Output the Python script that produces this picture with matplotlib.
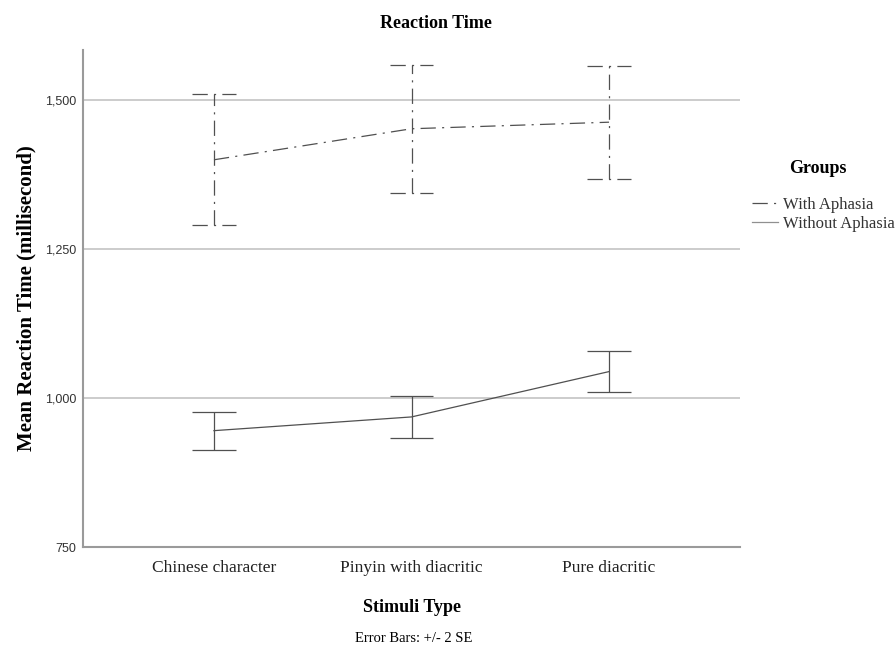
import matplotlib.pyplot as plt
import numpy as np

# values (mean reaction time, ms; error bars = +/- 2 SE)
categories = ["Chinese character", "Pinyin with diacritic", "Pure diacritic"]
group_labels = ["With Aphasia", "Without Aphasia"]
with_mean = [1399, 1451, 1462]
with_err = [110, 107, 95]
without_mean = [945, 968, 1044]
without_err = [32, 35, 34]
yticks = [750, 1000, 1250, 1500]

plt.rcParams['font.family'] = ['Liberation Serif', 'DejaVu Serif']
plt.rcParams['lines.scale_dashes'] = False

dashdot = (0, (11, 4.5, 1.5, 4.5))
line_col = "#505050"

fig = plt.figure(figsize=(8.96, 6.48), dpi=100)
ax = fig.add_axes([83/896, 1 - 547/648, (740 - 83)/896, (547 - 50)/648])

x = np.arange(len(categories))
cap = 0.111

# with aphasia: dash-dot line, error bars and caps
h_with, = ax.plot(x, with_mean, color=line_col, lw=0.9, linestyle=dashdot)
lo = np.array(with_mean) - np.array(with_err)
hi = np.array(with_mean) + np.array(with_err)
ax.vlines(x, lo, hi, color=line_col, lw=0.9, linestyle=dashdot)
ax.hlines(lo, x - cap, x + cap, color=line_col, lw=0.9, linestyle=dashdot)
ax.hlines(hi, x - cap, x + cap, color=line_col, lw=0.9, linestyle=dashdot)

# without aphasia: solid
h_without, = ax.plot(x, without_mean, color=line_col, lw=0.9)
lo = np.array(without_mean) - np.array(without_err)
hi = np.array(without_mean) + np.array(without_err)
ax.vlines(x, lo, hi, color=line_col, lw=0.9)
ax.hlines(lo, x - cap, x + cap, color=line_col, lw=0.9)
ax.hlines(hi, x - cap, x + cap, color=line_col, lw=0.9)

ax.set_xlim(-0.663, 2.663)
ax.set_ylim(750, 1583)
ax.set_xticks(x)
ax.set_xticklabels(categories, fontsize=12.5, color="#222222")
ax.set_yticks(yticks)
ax.set_yticklabels([f"{v:,}" for v in yticks], family="Liberation Sans",
                   fontsize=9, color="#333333")
ax.tick_params(axis="both", length=0)
ax.tick_params(axis="y", pad=5)
ax.tick_params(axis="x", pad=9)

ax.yaxis.grid(True, color="#c8c8c8", lw=1.3)
ax.set_axisbelow(True)
for s in ["top", "right"]:
    ax.spines[s].set_visible(False)
for s in ["left", "bottom"]:
    ax.spines[s].set_color("#9a9a9a")
    ax.spines[s].set_linewidth(1.5)

ax.set_xlabel("Stimuli Type", fontsize=13, fontweight="bold", labelpad=17)
ax.set_ylabel("Mean Reaction Time (millisecond)", fontsize=15,
              fontweight="bold", labelpad=6)

fig.text(436/896, 1 - 23/648, "Reaction Time", ha="center", va="center",
         fontsize=13, fontweight="bold")
fig.text(414/896, 1 - 639/648, "Error Bars: +/- 2 SE", ha="center",
         va="center", fontsize=10.5)

# legend: title drawn separately so the gap below it matches the reference
fig.text(818/896, 1 - 169/648, "Groups", ha="center", va="center",
         fontsize=13, fontweight="bold")
leg = fig.legend([h_with, h_without], group_labels,
                 loc="upper left", bbox_to_anchor=(752/896, 1 - 197/648),
                 frameon=False, fontsize=12, handlelength=1.55,
                 handletextpad=0.3, labelspacing=0.2,
                 borderpad=0, borderaxespad=0)
leg.get_lines()[1].set_color("#909090")
for t in leg.get_texts():
    t.set_color("#333333")

fig.savefig("out.png", dpi=100)
